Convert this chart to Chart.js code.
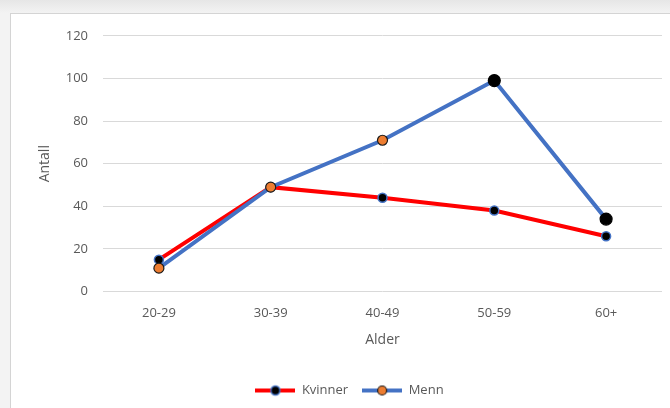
<!DOCTYPE html>
<html>
<head>
<meta charset="utf-8">
<script src="https://cdn.jsdelivr.net/npm/chart.js@4/dist/chart.umd.min.js"></script>
<style>
  html, body { margin: 0; padding: 0; }
  body { width: 670px; height: 408px; overflow: hidden; position: relative;
         background: linear-gradient(to bottom, #e6e6e6 0px, #f3f3f3 13px); }
  #frame { position: absolute; left: 10px; top: 13px; width: 680px; height: 420px;
           background: #fff; border-left: 1px solid #d4d4d4; border-top: 1px solid #d4d4d4; }
  #wrap { position: absolute; left: 10px; top: 13px; width: 660px; height: 395px; }
</style>
</head>
<body>
<div id="frame"></div>
<div id="wrap"><canvas id="c" width="660" height="395"></canvas></div>
<script>
const categories = ["20-29", "30-39", "40-49", "50-59", "60+"];
const kvinner = [15, 49, 44, 38, 26];
const menn = [11, 49, 71, 99, 34];
const yTicks = [0, 20, 40, 60, 80, 100, 120];
const seriesNames = ["Kvinner", "Menn"];
const xTitle = "Alder";
const yTitle = "Antall";

const FONT = "'Open Sans', 'Noto Sans', sans-serif";
const GREY = "#595959";

function legendIcon(lineColor, fill, stroke, lw) {
  const cv = document.createElement('canvas');
  cv.width = 40; cv.height = 14;
  const g = cv.getContext('2d');
  g.strokeStyle = lineColor; g.lineWidth = 4;
  g.beginPath(); g.moveTo(0, 7); g.lineTo(40, 7); g.stroke();
  g.beginPath(); g.arc(20, 7, 4.5, 0, Math.PI * 2);
  g.fillStyle = fill; g.fill();
  g.strokeStyle = stroke; g.lineWidth = lw; g.stroke();
  return cv;
}
const iconK = legendIcon('#FF0000', '#000000', '#4472C4', 1.5);
const iconM = legendIcon('#4472C4', '#ED7D31', '#1a1a1a', 1.2);

new Chart(document.getElementById('c'), {
  type: 'line',
  data: {
    labels: categories,
    datasets: [
      {
        label: seriesNames[0], data: kvinner, order: 1,
        borderColor: '#FF0000', borderWidth: 4, tension: 0,
        pointRadius: 4.5, pointBackgroundColor: '#000000',
        pointBorderColor: '#4472C4', pointBorderWidth: 1.5
      },
      {
        label: seriesNames[1], data: menn, order: 0,
        borderColor: '#4472C4', borderWidth: 4, tension: 0,
        pointRadius: [5, 5, 5, 6, 6],
        pointBackgroundColor: ['#ED7D31', '#ED7D31', '#ED7D31', '#000000', '#000000'],
        pointBorderColor: ['#1a1a1a', '#1a1a1a', '#1a1a1a', '#000000', '#000000'],
        pointBorderWidth: 1.2
      }
    ]
  },
  options: {
    responsive: false,
    animation: false,
    layout: { padding: { left: 27, right: 8, top: 6, bottom: 1 } },
    plugins: {
      tooltip: { enabled: false },
      legend: {
        position: 'bottom',
        labels: {
          font: { family: FONT, size: 13 }, color: GREY,
          usePointStyle: true, pointStyleWidth: 40, boxHeight: 14, padding: 14,
          sort: (a, b) => a.datasetIndex - b.datasetIndex,
          generateLabels: (chart) => chart.data.datasets.map((ds, i) => ({
            text: ds.label, datasetIndex: i, fontColor: GREY,
            pointStyle: i === 0 ? iconK : iconM, hidden: false,
            lineWidth: 0, strokeStyle: 'transparent', fillStyle: 'transparent'
          }))
        }
      }
    },
    scales: {
      x: {
        offset: true,
        grid: { display: false },
        border: { display: false },
        ticks: { font: { family: FONT, size: 13 }, color: GREY, padding: 6 },
        title: { display: true, text: xTitle, font: { family: FONT, size: 14 }, color: GREY, padding: { top: 4, bottom: 22 } }
      },
      y: {
        min: 0, max: 120,
        afterBuildTicks: (s) => { s.ticks = yTicks.map(v => ({ value: v })); },
        afterFit: (s) => { s.width = 66; },
        grid: { color: '#d9d9d9', lineWidth: 1, drawTicks: false },
        border: { display: false },
        ticks: { font: { family: FONT, size: 13 }, color: GREY, padding: 15 },
        title: { display: true, text: yTitle, font: { family: FONT, size: 14 }, color: GREY, padding: { top: 0, bottom: 8 } }
      }
    }
  }
});
</script>
</body>
</html>
